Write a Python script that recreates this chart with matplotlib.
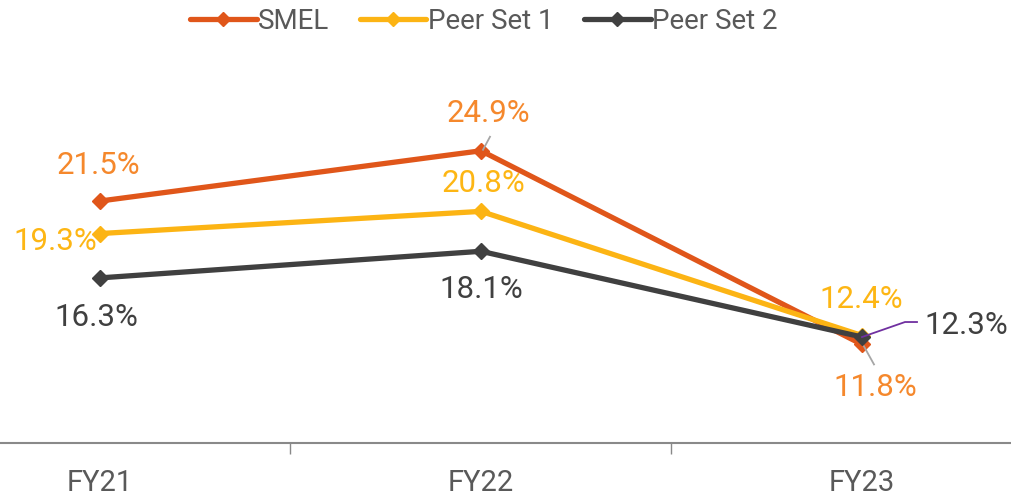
import matplotlib.pyplot as plt
from matplotlib.lines import Line2D

years = ['FY21', 'FY22', 'FY23']
smel = [21.5, 24.9, 11.8]
peer1 = [19.3, 20.8, 12.4]
peer2 = [16.3, 18.1, 12.3]

plt.rcParams['font.family'] = ['Roboto', 'DejaVu Sans']

fig = plt.figure(figsize=(10.12, 4.98), dpi=100)
ax = fig.add_axes([0, 55 / 498, 1, 443 / 498])

x = list(range(len(years)))
series = [
    ('SMEL', smel, '#E0561A', '#F5882C'),
    ('Peer Set 1', peer1, '#FCB414', '#FDB614'),
    ('Peer Set 2', peer2, '#404040', '#404040'),
]
for name, vals, col, _ in series:
    ax.plot(x, vals, color=col, lw=3.8, marker='D', ms=8, label=name,
            solid_capstyle='round', zorder=3)

ax.set_xlim(-100 / 381, 912 / 381)
ax.set_ylim(5.13, 35.1)

# label offsets in pixels from each point
offsets = {
    'SMEL': [(-2, 36), (7, 37), (13, -43)],
    'Peer Set 1': [(-45, -8), (3, 28), (-1, 36)],
    'Peer Set 2': [(-4, -40), (0, -38), (104, 12)],
}
for name, vals, _, lcol in series:
    for i, v in enumerate(vals):
        dx, dy = offsets[name][i]
        ax.annotate(f'{v:.1f}%', (i, v), xytext=(dx, dy), textcoords='offset pixels',
                    ha='center', va='center', fontsize=22.5, color=lcol, zorder=5)

# leader lines
def leader(i, v, pts, color, lw=1.3):
    px, py = ax.transData.transform((i, v))
    xs = [px + p[0] for p in pts]
    ys = [py + p[1] for p in pts]
    fig.add_artist(Line2D(xs, ys, color=color, lw=lw, transform=None, zorder=6))

leader(1, smel[1], [(2, 1), (9, 14)], '#A6A6A6')
leader(2, smel[2], [(2, -2), (12, -20)], '#A6A6A6')
leader(2, peer2[2], [(0, 0), (43, 15), (55, 15)], '#7030A0')

for s in ['top', 'left', 'right']:
    ax.spines[s].set_visible(False)
ax.spines['bottom'].set_color('#898989')
ax.spines['bottom'].set_linewidth(1.5)
ax.set_yticks([])
ax.set_xticks(x)
ax.set_xticklabels(years, family=['Liberation Sans Narrow', 'Roboto'], fontsize=21,
                   color='#595959')
ax.tick_params(axis='x', length=0, pad=19)
ax.set_xticks([0.5, 1.5], minor=True)
ax.tick_params(axis='x', which='minor', length=8, width=1, color='#898989')

fig.legend(loc='upper center', bbox_to_anchor=(0.478, 1.035), ncol=3, frameon=False,
           fontsize=20, labelcolor='#595959', handlelength=2.4, handletextpad=0.05,
           columnspacing=1.1, markerscale=0.9)

fig.savefig('out.png', dpi=100)
